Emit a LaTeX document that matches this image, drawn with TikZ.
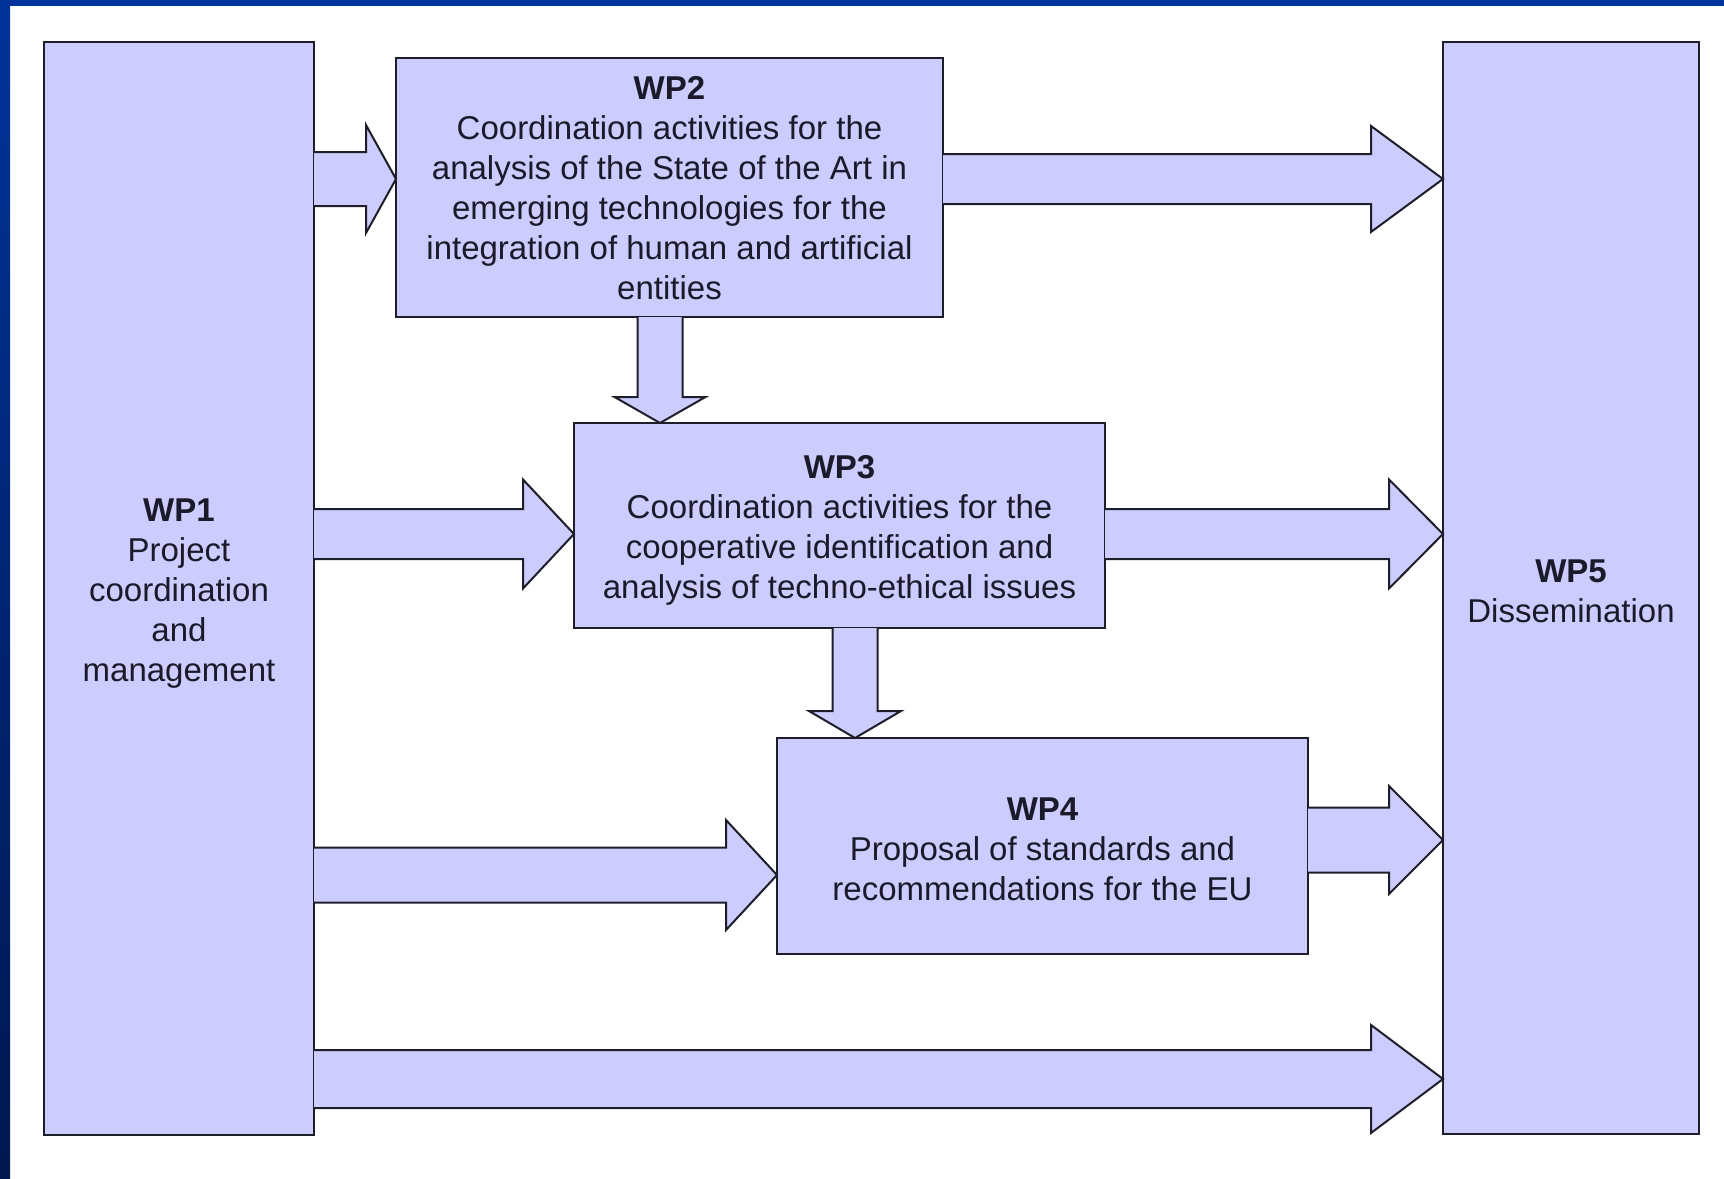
\documentclass[tikz,border=0pt]{standalone}
\usepackage{fontspec}
\setmainfont{Liberation Sans}
\usetikzlibrary{calc}
\definecolor{boxfill}{HTML}{CCCCFF}
\definecolor{edgecol}{HTML}{1E1E2A}
\definecolor{txtcol}{HTML}{1A1A2A}
\definecolor{barblue}{HTML}{003399}
\definecolor{barnavy}{HTML}{00174F}
% horizontal block arrow: #1 start, #2 tip, #3 shaft half width, #4 head half width, #5 head length
\newcommand\harrow[5]{\draw[blockarrow] let \p1=(#1), \p2=(#2) in
  (\x1,{\y1+#3}) -- ({\x2-#5},{\y1+#3}) -- ({\x2-#5},{\y1+#4}) -- (\x2,\y2)
  -- ({\x2-#5},{\y1-#4}) -- ({\x2-#5},{\y1-#3}) -- (\x1,{\y1-#3});}
% vertical (downward) block arrow
\newcommand\varrow[5]{\draw[blockarrow] let \p1=(#1), \p2=(#2) in
  ({\x1-#3},\y1) -- ({\x1-#3},{\y2+#5}) -- ({\x1-#4},{\y2+#5}) -- (\x2,\y2)
  -- ({\x1+#4},{\y2+#5}) -- ({\x1+#3},{\y2+#5}) -- ({\x1+#3},\y1);}
\begin{document}
\begin{tikzpicture}[x=0.5pt,y=-0.5pt,
  wpbox/.style={draw=edgecol, fill=boxfill, line width=1pt, inner sep=0pt, outer sep=0pt},
  wptext/.style={text=txtcol, align=center, inner sep=0pt, font=\fontsize{16.5}{20}\selectfont},
  blockarrow/.style={draw=edgecol, fill=boxfill, line width=1pt, line join=miter}]
\useasboundingbox (0,0) rectangle (1724,1178);
\fill[white] (0,0) rectangle (1724,1178);
\fill[barblue] (0,0) rectangle (1724,6);
\shade[top color=barblue, bottom color=barnavy] (0,0) rectangle (10,1178);

\node[wpbox, minimum width=135pt, minimum height=546.5pt] (wp1) at (179,588.5) {};
\node[wpbox, minimum width=273.5pt, minimum height=129.5pt] (wp2) at (669.5,187.5) {};
\node[wpbox, minimum width=265.5pt, minimum height=102.5pt] (wp3) at (839.5,525.5) {};
\node[wpbox, minimum width=265.5pt, minimum height=108pt] (wp4) at (1042.5,846) {};
\node[wpbox, minimum width=128pt, minimum height=546pt] (wp5) at (1571,588) {};

\node[wptext] (wp1t) at ([yshift=-2.4pt]wp1.center)
  {\textbf{WP1}\\Project\\coordination\\and\\management};
\node[wptext] (wp2t) at ([yshift=-0.3pt]wp2.center)
  {\textbf{WP2}\\Coordination activities for the\\analysis of the State of the Art in\\emerging technologies for the\\integration of human and artificial\\entities};
\node[wptext] (wp3t) at ([yshift=-2.2pt]wp3.center)
  {\textbf{WP3}\\Coordination activities for the\\cooperative identification and\\analysis of techno-ethical issues};
\node[wptext] (wp4t) at ([yshift=-1.8pt]wp4.center)
  {\textbf{WP4}\\Proposal of standards and\\recommendations for the EU};
\node[wptext] (wp5t) at ([yshift=-1.8pt]wp5.center)
  {\textbf{WP5}\\Dissemination};

\harrow{wp1.east |- 0,179}{wp2.west |- 0,179}{13.5pt}{27pt}{15pt}
\harrow{wp2.east |- 0,179}{wp5.west |- 0,179}{12.5pt}{26.5pt}{36pt}
\varrow{wp2.south -| 660,0}{wp3.north -| 660,0}{11.25pt}{22.75pt}{13pt}
\harrow{wp1.east |- 0,534}{wp3.west |- 0,534}{12.5pt}{27.25pt}{25.5pt}
\harrow{wp3.east |- 0,534}{wp5.west |- 0,534}{12.5pt}{27.25pt}{27pt}
\varrow{wp3.south -| 855,0}{wp4.north -| 855,0}{11.25pt}{23pt}{13.5pt}
\harrow{wp1.east |- 0,875}{wp4.west |- 0,875}{13.75pt}{27.5pt}{25.5pt}
\harrow{wp4.east |- 0,840}{wp5.west |- 0,840}{16.25pt}{27pt}{27pt}
\harrow{wp1.east |- 0,1079}{wp5.west |- 0,1079}{14.5pt}{27pt}{36pt}
\end{tikzpicture}
\end{document}
